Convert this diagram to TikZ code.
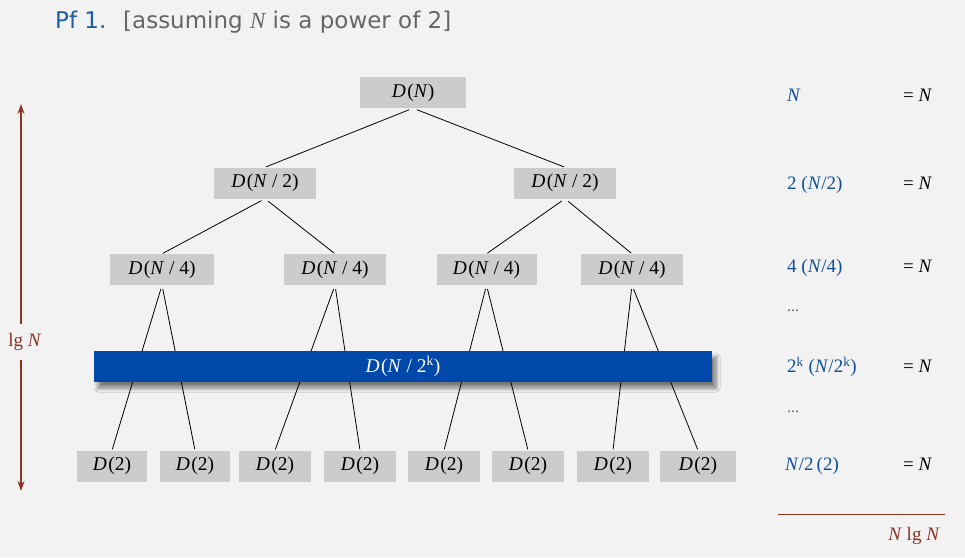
\documentclass[tikz,border=0pt]{standalone}
\usepackage{fontspec}
\setmainfont{Liberation Serif}
\newfontfamily\titlefont{DejaVu Sans}
\usetikzlibrary{arrows.meta,shadows.blur}
\definecolor{bgc}{HTML}{F2F2F2}
\definecolor{boxgrey}{HTML}{CCCCCC}
\definecolor{barblue}{RGB}{0,72,170}
\definecolor{txtblue}{RGB}{16,80,150}
\definecolor{darkred}{RGB}{140,50,35}
\definecolor{titlegrey}{HTML}{666666}
\definecolor{titleblue}{RGB}{30,95,160}
\newcommand{\DD}[1]{\textit{D}\kern1.5pt(#1)}
\newcommand{\NN}{\textit{N}}
\begin{document}
\begin{tikzpicture}[x=1pt,y=-1pt,
  treebox/.style={fill=boxgrey, minimum height=31pt, inner sep=0pt, font=\fontsize{19.5}{22}\selectfont},
  edge/.style={draw=black, line width=0.8pt, shorten <=4pt, shorten >=1pt},
  rlabel/.style={anchor=west, inner sep=0pt, text height=13pt, text depth=4pt, font=\fontsize{19}{22}\selectfont, text=txtblue},
  eqlabel/.style={anchor=west, inner sep=0pt, text height=13pt, text depth=4pt, font=\fontsize{19}{22}\selectfont, text=black},
  dots/.style={anchor=west, inner sep=0pt, font=\fontsize{16}{20}\selectfont, text=titlegrey},
  redarrow/.style={draw=darkred, line width=1.2pt, -{Stealth[length=10pt,width=7pt]}}
]
\fill[bgc] (0,0) rectangle (965,557);
\useasboundingbox (0,0) rectangle (965,557);

% title
\node[anchor=base west, inner sep=0pt, text=titleblue, font=\titlefont\fontsize{23}{27}\selectfont] (pf) at (55,28) {Pf 1.};
\node[anchor=base west, inner sep=0pt, text=titlegrey, font=\titlefont\fontsize{23}{27}\selectfont] (assume) at (123,28) {[assuming {\rmfamily\itshape N} is a power of 2]};

% tree nodes
\node[treebox, minimum width=106pt] (root) at (413,92.5) {\DD{\NN}};
\node[treebox, minimum width=102pt] (h1) at (265,183) {\DD{\NN\ / 2}};
\node[treebox, minimum width=102pt] (h2) at (565,183) {\DD{\NN\ / 2}};
\node[treebox, minimum width=104pt] (q1) at (162,269.5) {\DD{\NN\ / 4}};
\node[treebox, minimum width=102pt] (q2) at (335,269.5) {\DD{\NN\ / 4}};
\node[treebox, minimum width=100pt] (q3) at (486.5,269.5) {\DD{\NN\ / 4}};
\node[treebox, minimum width=102pt] (q4) at (632,269.5) {\DD{\NN\ / 4}};
\node[treebox, minimum width=70pt] (l1) at (112,466) {\DD{2}};
\node[treebox, minimum width=70pt] (l2) at (195,466) {\DD{2}};
\node[treebox, minimum width=72pt] (l3) at (275,466) {\DD{2}};
\node[treebox, minimum width=72pt] (l4) at (360,466) {\DD{2}};
\node[treebox, minimum width=72pt] (l5) at (444,466) {\DD{2}};
\node[treebox, minimum width=72pt] (l6) at (528,466) {\DD{2}};
\node[treebox, minimum width=72pt] (l7) at (613,466) {\DD{2}};
\node[treebox, minimum width=76pt] (l8) at (698,466) {\DD{2}};

% edges
\draw[edge] (root.south) -- (h1.north);
\draw[edge] (root.south) -- (h2.north);
\draw[edge] (h1.south) -- (q1.north);
\draw[edge] (h1.south) -- (q2.north);
\draw[edge] (h2.south) -- (q3.north);
\draw[edge] (h2.south) -- (q4.north);
\draw[edge] (q1.south) -- (l1.north);
\draw[edge] (q1.south) -- (l2.north);
\draw[edge] (q2.south) -- (l3.north);
\draw[edge] (q2.south) -- (l4.north);
\draw[edge] (q3.south) -- (l5.north);
\draw[edge] (q3.south) -- (l6.north);
\draw[edge] (q4.south) -- (l7.north);
\draw[edge] (q4.south) -- (l8.north);

% blue bar
\node[fill=barblue, minimum width=618pt, minimum height=31pt, inner sep=0pt,
  text=white, font=\fontsize{19.5}{22}\selectfont,
  blur shadow={shadow xshift=4pt, shadow yshift=-6pt, shadow blur radius=4pt, shadow blur steps=12, shadow opacity=50}]
  (bar) at (403,366.5) {\DD{\NN\ / 2\textsuperscript{k}}};

% left arrow
\node[inner sep=0pt, inner ysep=9pt, text=darkred, font=\fontsize{19}{22}\selectfont] (lg) at (25,342) {lg \NN};
\coordinate (atop) at (21,104);
\coordinate (abot) at (21,491);
\draw[redarrow] (atop |- lg.north) -- (atop);
\draw[redarrow] (abot |- lg.south) -- (abot);

% right column
\node[rlabel] (s0) at (787,97) {\NN};
\node[rlabel] (s1) at (787,185) {2 (\NN/2)};
\node[rlabel] (s2) at (787,268) {4 (\NN/4)};
\node[dots] (d1) at (787,311) {...};
\node[rlabel] (s3) at (787,368) {2\textsuperscript{k} (\NN/2\textsuperscript{k})};
\node[dots] (d2) at (787,412) {...};
\node[rlabel] (s4) at (785,466) {\NN/2\,(2)};
\node[eqlabel] (e0) at (903,97) {= \NN};
\node[eqlabel] (e1) at (903,185) {= \NN};
\node[eqlabel] (e2) at (903,268) {= \NN};
\node[eqlabel] (e3) at (903,368) {= \NN};
\node[eqlabel] (e4) at (903,466) {= \NN};
\coordinate (hl) at (778,514);
\coordinate (hr) at (945,514);
\draw[darkred, line width=0.9pt] (hl) -- (hr);
\node[anchor=east, inner sep=0pt, text=darkred, font=\fontsize{19}{22}\selectfont, text height=13pt, text depth=4pt] (total) at (940,536) {\NN\ lg \NN};
\end{tikzpicture}
\end{document}
